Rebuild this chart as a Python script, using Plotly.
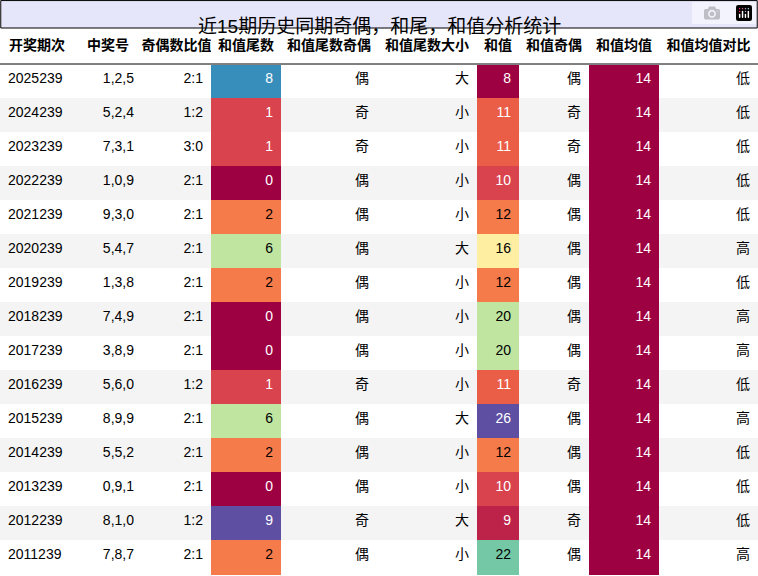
import plotly.graph_objects as go
from plotly.colors import sample_colorscale, unlabel_rgb

# 数据
periods = ["2025239", "2024239", "2023239", "2022239", "2021239", "2020239", "2019239", "2018239",
           "2017239", "2016239", "2015239", "2014239", "2013239", "2012239", "2011239"]
numbers = ["1,2,5", "5,2,4", "7,3,1", "1,0,9", "9,3,0", "5,4,7", "1,3,8", "7,4,9",
           "3,8,9", "5,6,0", "8,9,9", "5,5,2", "0,9,1", "8,1,0", "7,8,7"]
odd_even_ratio = ["2:1", "1:2", "3:0", "2:1", "2:1", "2:1", "2:1", "2:1",
                  "2:1", "1:2", "2:1", "2:1", "2:1", "1:2", "2:1"]
tail = [8, 1, 1, 0, 2, 6, 2, 0, 0, 1, 6, 2, 0, 9, 2]
tail_parity = ["偶", "奇", "奇", "偶", "偶", "偶", "偶", "偶", "偶", "奇", "偶", "偶", "偶", "奇", "偶"]
tail_size = ["大", "小", "小", "小", "小", "大", "小", "小", "小", "小", "大", "小", "小", "大", "小"]
sums = [8, 11, 11, 10, 12, 16, 12, 20, 20, 11, 26, 12, 10, 9, 22]
sum_parity = ["偶", "奇", "奇", "偶", "偶", "偶", "偶", "偶", "偶", "奇", "偶", "偶", "偶", "奇", "偶"]
sum_mean = [14] * 15
mean_cmp = ["低", "低", "低", "低", "低", "高", "低", "高", "高", "低", "高", "低", "低", "低", "高"]

headers = ["开奖期次", "中奖号", "奇偶数比值", "和值尾数", "和值尾数奇偶", "和值尾数大小",
           "和值", "和值奇偶", "和值均值", "和值均值对比"]


def spectral(vals):
    lo, hi = min(vals), max(vals)
    pos = [(v - lo) / (hi - lo) if hi > lo else 0 for v in vals]
    cols = sample_colorscale("Spectral", pos)
    fonts = []
    for c in cols:
        r, g, b = unlabel_rgb(c)
        lum = 0.299 * r + 0.587 * g + 0.114 * b
        fonts.append("black" if lum > 150 else "white")
    return cols, fonts


n = len(periods)
row_bg = ["white" if i % 2 == 0 else "#f4f4f4" for i in range(n)]
tail_col, tail_font = spectral(tail)
sum_col, sum_font = spectral(sums)
mean_col, mean_font = spectral(sum_mean)

fills = [row_bg, row_bg, row_bg, tail_col, row_bg, row_bg, sum_col, row_bg, mean_col, row_bg]
fcols = [["black"] * n] * 3 + [tail_font] + [["black"] * n] * 2 + [sum_font] + [["black"] * n] + [mean_font] + [["black"] * n]

font_family = "Liberation Sans, Noto Sans CJK SC"
fig = go.Figure(go.Table(
    columnwidth=[74, 68, 69, 70, 96, 100, 42, 70, 70, 99],
    header=dict(values=["<b>%s</b>" % h for h in headers], fill_color="white", line_color="white",
                align="center", height=35, font=dict(family=font_family, size=14, color="black")),
    cells=dict(values=[periods, numbers, odd_even_ratio, tail, tail_parity, tail_size,
                       sums, sum_parity, sum_mean, mean_cmp],
               fill_color=fills, line_color=fills, height=34,
               align=["left"] + ["right"] * 9,
               font=dict(family=font_family, size=14, color=fcols)),
    domain=dict(x=[0, 1], y=[0, 1 - 29 / 576]),
))
fig.add_shape(type="rect", xref="paper", yref="paper", x0=0.001, x1=0.999, y0=1 - 28 / 576, y1=0.999,
              fillcolor="#e6e6fa", line=dict(color="black", width=1))
fig.add_shape(type="line", xref="paper", yref="paper", x0=0, x1=1, y0=1 - 64 / 576, y1=1 - 64 / 576,
              line=dict(color="black", width=1))
fig.add_annotation(text="近15期历史同期奇偶，和尾，和值分析统计", xref="paper", yref="paper",
                   x=0.5, y=1 - 14 / 576, showarrow=False,
                   font=dict(family=font_family, size=19, color="black"))
fig.update_layout(width=758, height=576, margin=dict(l=0, r=0, t=0, b=0), paper_bgcolor="white")
fig.write_html("out.html", post_script="document.body.style.margin='0';")
